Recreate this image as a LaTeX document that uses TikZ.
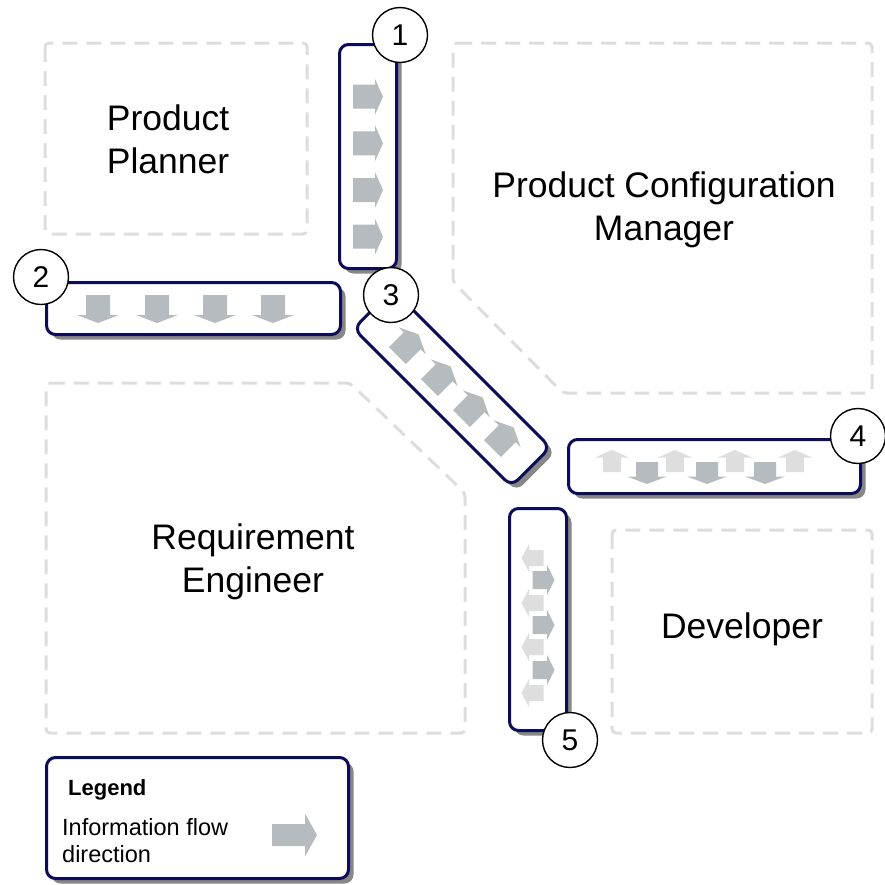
\documentclass[tikz,border=0pt]{standalone}
\usepackage{fontspec}
\setmainfont{Liberation Sans}
\definecolor{navy}{RGB}{12,12,88}
\definecolor{zonegray}{RGB}{221,221,221}
\definecolor{shadowgray}{RGB}{135,135,135}
\definecolor{arrowdark}{RGB}{182,187,192}
\definecolor{arrowlight}{RGB}{222,222,222}
\tikzset{
  zone/.style={draw=zonegray, line width=3pt, dash pattern=on 15pt off 9pt, rounded corners=4pt},
  zonelabel/.style={align=center, font=\fontsize{35.5}{43}\selectfont, anchor=base, inner sep=0pt},
  flowbox/.style={rectangle, draw=navy, fill=white, line width=3pt, rounded corners=9pt, inner sep=0pt},
  flowshadow/.style={rectangle, fill=shadowgray, rounded corners=9pt, inner sep=0pt, xshift=5pt, yshift=-5pt},
  numtag/.style={circle, draw=black, fill=white, line width=1.4pt, minimum size=55pt, inner sep=0pt,
    font=\fontsize{30}{30}\selectfont},
  pics/flowarrow/.style args={#1/#2/#3/#4}{code={
    \fill (-#1,-#3) -- (#2,-#3) -- (#2,-#4) -- (#1,0) -- (#2,#4) -- (#2,#3) -- (-#1,#3) -- cycle;}},
}
\begin{document}
\begin{tikzpicture}[x=1pt, y=-1pt]
\useasboundingbox (0,0) rectangle (885,884);

% role zones
\draw[zone] (45,43) rectangle (307,234);
\draw[zone] (453,43) -- (872,43) -- (872,393) -- (563,393) -- (453,282) -- cycle;
\draw[zone] (46,383) -- (350,383) -- (465,493) -- (465,733) -- (46,733) -- cycle;
\draw[zone] (612,530) rectangle (872,733);

% role names (the base anchor sits on the last line)
\node[zonelabel] (planner) at (168,173) {Product\\Planner};
\node[zonelabel] (pcm) at (664,240) {Product Configuration\\Manager};
\node[zonelabel] (reqeng) at (253,592) {Requirement\\Engineer};
\node[zonelabel] (dev) at (742,638) {Developer};

% channel shadows
\node[flowshadow, minimum width=57pt, minimum height=224pt] (s1) at (368,156.5) {};
\node[flowshadow, minimum width=294pt, minimum height=52pt] (s2) at (193.5,308.5) {};
\node[flowshadow, rotate=-45, minimum width=223pt, minimum height=55pt] (s3) at (452,388) {};
\node[flowshadow, minimum width=292pt, minimum height=54pt] (s4) at (714.5,466.5) {};
\node[flowshadow, minimum width=57pt, minimum height=222pt] (s5) at (538,619.5) {};
\node[flowshadow, minimum width=302pt, minimum height=121pt] (sl) at (197.5,818) {};

% channels
\node[flowbox, minimum width=57pt, minimum height=224pt] (c1) at (368,156.5) {};
\node[flowbox, minimum width=294pt, minimum height=52pt] (c2) at (193.5,308.5) {};
\node[flowbox, rotate=-45, minimum width=223pt, minimum height=55pt] (c3) at (452,388) {};
\node[flowbox, minimum width=292pt, minimum height=54pt] (c4) at (714.5,466.5) {};
\node[flowbox, minimum width=57pt, minimum height=222pt] (c5) at (538,619.5) {};
\node[flowbox, minimum width=302pt, minimum height=121pt] (legend) at (197.5,818) {};

% channel 1: to the right
\foreach \y in {96.7,143.3,190,236.7}
  \pic[fill=arrowdark] at (368,\y) {flowarrow=15/7/12/18};
% channel 2: downwards
\foreach \x in {98,157,215,273}
  \pic[fill=arrowdark, rotate=-90] at (\x,309) {flowarrow=14/6/12/21};
% channel 3: towards the upper right
\foreach \x/\y in {408/345,440/377,472/408,503/438}
  \pic[fill=arrowdark, rotate=45] at (\x,\y) {flowarrow=15/6/12/19};
% channel 4: both ways
\foreach \x in {612,675,735,795}
  \pic[fill=arrowlight, rotate=90] at (\x,461) {flowarrow=11/3.5/9/17};
\foreach \x in {647,707,765}
  \pic[fill=arrowdark, rotate=-90] at (\x,473) {flowarrow=11/3.5/11/20};
% channel 5: both ways
\foreach \y in {558,603,647,693}
  \pic[fill=arrowlight, rotate=180] at (532.5,\y) {flowarrow=11/3.5/8/14};
\foreach \y in {580,625,670}
  \pic[fill=arrowdark] at (543.5,\y) {flowarrow=11/3.5/9/15};

% number tags
\node[numtag] (n1) at (400,35) {1};
\node[numtag] (n2) at (41,277) {2};
\node[numtag] (n3) at (391,295) {3};
\node[numtag] (n4) at (858,436) {4};
\node[numtag] (n5) at (570,740) {5};

% legend
\node[anchor=base west, inner sep=0pt, font=\bfseries\fontsize{22}{22}\selectfont] (legtitle) at (68,795) {Legend};
\node[anchor=base west, inner sep=0pt, align=left, font=\fontsize{23.5}{27}\selectfont] (legtext) at (62,862) {Information flow\\direction};
\pic[fill=arrowdark] at (294.5,835) {flowarrow=22.5/10.5/11/21.5};
\end{tikzpicture}
\end{document}
